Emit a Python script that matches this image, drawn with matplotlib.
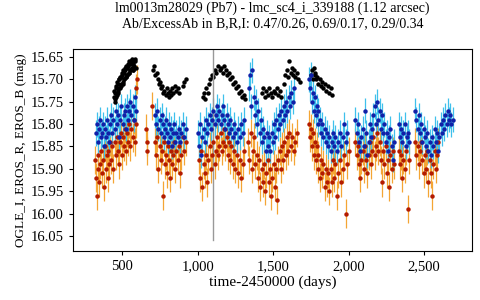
import matplotlib
matplotlib.use("Agg")
import matplotlib.pyplot as plt
from matplotlib.ticker import FuncFormatter

plt.rcParams["font.family"] = ["Liberation Serif", "DejaVu Serif"]

# EROS_B (blue markers, cyan bars)
t_b = [325, 332, 338, 345, 352, 358, 365, 372, 378, 385, 392, 398, 405, 412, 420, 428, 435, 442, 450, 458,
       465, 472, 480, 488, 495, 503, 510, 518, 525, 532, 540, 548, 555, 562, 570, 578, 585, 592,
       720, 727, 734, 741, 748, 755, 762, 769, 776, 783, 790, 797, 804, 811, 818, 825, 832, 839, 846, 853,
       860, 868, 876, 884, 892, 900, 910, 920,
       1005, 1012, 1018, 1025, 1032, 1040, 1048, 1056, 1064, 1072, 1080, 1088, 1096, 1104, 1112, 1120, 1128,
       1136, 1144, 1152, 1160, 1168, 1176, 1184, 1192, 1200, 1208, 1216, 1224, 1232, 1240, 1250, 1260, 1270,
       1280, 1290, 1300, 1310,
       1340, 1348, 1355, 1362, 1370, 1378, 1386, 1394, 1402, 1410, 1418, 1426, 1434, 1442, 1450, 1458, 1466,
       1474, 1482, 1490, 1498, 1506, 1514, 1522, 1530, 1538, 1546, 1554, 1562, 1570, 1578, 1586, 1594, 1602,
       1610, 1620, 1630, 1640,
       1740, 1746, 1752, 1758, 1764, 1770, 1776, 1782, 1788, 1794, 1800, 1808, 1816, 1824, 1832, 1840, 1848,
       1856, 1864, 1872, 1880, 1888, 1896, 1904, 1912, 1920, 1930, 1940, 1950, 1960, 1970, 1980, 1990,
       2045, 2052, 2060, 2068, 2076, 2084, 2092, 2100, 2108, 2116, 2124, 2132, 2140, 2148, 2156, 2164, 2172,
       2180, 2188, 2196, 2204, 2212, 2220, 2228, 2236, 2244, 2252, 2260, 2268, 2276, 2284, 2292, 2300,
       2330, 2338, 2346, 2354, 2362, 2370, 2378, 2386, 2394, 2402, 2440, 2448, 2456, 2464, 2472, 2480, 2488,
       2496, 2504, 2512, 2520, 2528, 2536, 2544, 2552, 2560, 2568, 2576, 2584, 2592, 2600, 2608, 2616, 2624,
       2632, 2640, 2648, 2656, 2664, 2672, 2680, 2688]
m_b = [15.82, 15.80, 15.84, 15.81, 15.79, 15.83, 15.82, 15.80, 15.85, 15.81, 15.83, 15.79, 15.82, 15.84, 15.80,
       15.78, 15.82, 15.79, 15.81, 15.77, 15.80, 15.78, 15.83, 15.79, 15.76, 15.80, 15.78, 15.77, 15.81, 15.76,
       15.79, 15.77, 15.75, 15.78, 15.76, 15.79, 15.74, 15.77,
       15.78, 15.80, 15.77, 15.81, 15.79, 15.82, 15.78, 15.80, 15.83, 15.81, 15.79, 15.82, 15.84, 15.80, 15.83,
       15.81, 15.85, 15.82, 15.80, 15.84, 15.82, 15.83, 15.81, 15.84, 15.82, 15.80, 15.83, 15.81,
       15.82, 15.85, 15.80, 15.87, 15.83, 15.81, 15.84, 15.79, 15.82, 15.80, 15.78, 15.81, 15.79, 15.77, 15.80,
       15.78, 15.76, 15.79, 15.77, 15.80, 15.78, 15.76, 15.79, 15.81, 15.78, 15.80, 15.82, 15.79, 15.81, 15.83,
       15.80, 15.82, 15.84, 15.81, 15.83, 15.80, 15.82, 15.79,
       15.72, 15.69, 15.76, 15.68, 15.74, 15.78, 15.75, 15.80, 15.77, 15.82, 15.79, 15.84, 15.81, 15.83, 15.86,
       15.82, 15.85, 15.83, 15.86, 15.82, 15.84, 15.80, 15.83, 15.79, 15.81, 15.78, 15.80, 15.77, 15.79, 15.76,
       15.78, 15.75, 15.77, 15.74, 15.76, 15.73, 15.75, 15.72,
       15.70, 15.72, 15.69, 15.75, 15.73, 15.77, 15.74, 15.78, 15.76, 15.80, 15.77, 15.79, 15.82, 15.80, 15.83,
       15.81, 15.84, 15.82, 15.85, 15.83, 15.86, 15.84, 15.82, 15.85, 15.83, 15.86, 15.84, 15.82, 15.85, 15.83,
       15.80, 15.84, 15.82,
       15.79, 15.82, 15.80, 15.84, 15.86, 15.83, 15.81, 15.85, 15.77, 15.82, 15.87, 15.84, 15.80, 15.83, 15.81,
       15.78, 15.76, 15.80, 15.75, 15.79, 15.77, 15.81, 15.78, 15.82, 15.80, 15.84, 15.82, 15.86, 15.83, 15.81,
       15.85, 15.88, 15.84,
       15.80, 15.83, 15.81, 15.84, 15.82, 15.80, 15.85, 15.83, 15.82, 15.84, 15.77, 15.79, 15.81, 15.78, 15.82,
       15.80, 15.84, 15.81, 15.83, 15.85, 15.82, 15.86, 15.84, 15.87, 15.83, 15.85, 15.81, 15.84, 15.82, 15.86,
       15.83, 15.80, 15.82, 15.79, 15.81, 15.78, 15.80, 15.77, 15.79, 15.78, 15.80, 15.79]
err_b = 0.028

# EROS_R (red markers, orange bars)
t_r = [322, 328, 333, 338, 344, 350, 356, 362, 368, 374, 380, 386, 392, 398, 404, 410, 416, 422, 428, 435,
       442, 450, 457, 464, 471, 478, 485, 492, 499, 506, 513, 520, 527, 534, 541, 548, 555, 562, 570, 578,
       586, 590, 593, 596,
       660, 662, 665, 697,
       720, 727, 734, 741, 748, 755, 762, 768, 775, 782, 789, 796, 803, 810, 817, 824, 831, 838, 845, 852,
       860, 868, 876, 884, 892, 900, 910, 920,
       1010, 1018, 1025, 1032, 1040, 1048, 1056, 1064, 1072, 1080, 1088, 1096, 1104, 1112, 1120, 1128, 1136,
       1144, 1152, 1160, 1168, 1176, 1184, 1192, 1200, 1208, 1216, 1224, 1232, 1240, 1250, 1260, 1270, 1280,
       1290, 1300, 1310,
       1335, 1343, 1351, 1359, 1367, 1375, 1383, 1391, 1399, 1407, 1415, 1423, 1431, 1439, 1447, 1455, 1463,
       1471, 1479, 1487, 1495, 1503, 1511, 1519, 1527, 1535, 1543, 1551, 1559, 1567, 1575, 1583, 1591, 1599,
       1607, 1615, 1625, 1635, 1645, 1655,
       1740, 1746, 1752, 1758, 1764, 1770, 1776, 1782, 1788, 1794, 1800, 1808, 1816, 1824, 1832, 1840, 1848,
       1856, 1864, 1872, 1880, 1888, 1896, 1904, 1912, 1920, 1930, 1940, 1950, 1960, 1970, 1982, 1990, 2000,
       2045, 2052, 2060, 2068, 2076, 2084, 2092, 2100, 2108, 2116, 2124, 2132, 2140, 2148, 2156, 2164, 2172,
       2180, 2188, 2196, 2204, 2212, 2220, 2228, 2236, 2244, 2252, 2260, 2268, 2276, 2284, 2292, 2300,
       2330, 2338, 2346, 2354, 2362, 2370, 2378, 2392, 2400, 2440, 2448, 2456, 2464, 2472, 2480, 2488, 2496,
       2504, 2512, 2520, 2528, 2536, 2544, 2552, 2560, 2568, 2576, 2584, 2592]
m_r = [15.88, 15.92, 15.96, 15.90, 15.87, 15.93, 15.89, 15.86, 15.91, 15.88, 15.94, 15.85, 15.90, 15.87, 15.92,
       15.86, 15.89, 15.84, 15.88, 15.85, 15.90, 15.84, 15.87, 15.83, 15.86, 15.89, 15.84, 15.82, 15.87, 15.83,
       15.85, 15.81, 15.86, 15.82, 15.84, 15.80, 15.85, 15.81, 15.83, 15.79, 15.84, 15.72, 15.80, 15.70,
       15.81, 15.84, 15.86, 15.76,
       15.84, 15.87, 15.83, 15.90, 15.85, 15.88, 15.86, 15.96, 15.84, 15.89, 15.87, 15.91, 15.85, 15.88, 15.92,
       15.86, 15.89, 15.87, 15.84, 15.90, 15.86, 15.88, 15.85, 15.91, 15.87, 15.83, 15.86, 15.84,
       15.88, 15.92, 15.86, 15.94, 15.89, 15.91, 15.87, 15.93, 15.88, 15.85, 15.90, 15.87, 15.84, 15.89, 15.86,
       15.83, 15.87, 15.85, 15.82, 15.86, 15.84, 15.81, 15.85, 15.83, 15.87, 15.84, 15.88, 15.85, 15.89, 15.86,
       15.90, 15.87, 15.91, 15.88, 15.92, 15.89, 15.86,
       15.84, 15.88, 15.82, 15.90, 15.86, 15.83, 15.89, 15.87, 15.92, 15.88, 15.94, 15.90, 15.93, 15.89, 15.95,
       15.91, 15.88, 15.93, 15.90, 15.96, 15.92, 15.89, 15.94, 15.90, 15.97, 15.88, 15.86, 15.90, 15.85, 15.88,
       15.84, 15.87, 15.83, 15.86, 15.82, 15.85, 15.83, 15.86, 15.84, 15.82,
       15.80, 15.83, 15.81, 15.85, 15.82, 15.87, 15.84, 15.88, 15.85, 15.90, 15.87, 15.92, 15.88, 15.91, 15.89,
       15.94, 15.90, 15.93, 15.91, 15.95, 15.90, 15.93, 15.88, 15.92, 15.89, 15.96, 15.91, 15.88, 15.93, 15.90,
       15.87, 16.00, 15.89, 15.86,
       15.84, 15.87, 15.85, 15.89, 15.92, 15.88, 15.86, 15.90, 15.85, 15.88, 15.91, 15.87, 15.84, 15.89, 15.86,
       15.83, 15.87, 15.85, 15.82, 15.86, 15.84, 15.88, 15.93, 15.86, 15.89, 15.85, 15.91, 15.88, 15.94, 15.87,
       15.90, 15.86, 15.89,
       15.86, 15.89, 15.87, 15.92, 15.88, 15.90, 15.86, 15.99, 15.88, 15.84, 15.87, 15.85, 15.89, 15.86, 15.84,
       15.88, 15.91, 15.87, 15.90, 15.86, 15.93, 15.88, 15.91, 15.96, 15.89, 15.86, 15.90, 15.87, 15.84]
err_r = 0.032

# OGLE_I (black markers)
t_i = [445, 448, 450, 453, 455, 458, 460, 463, 465, 468, 470, 473, 475, 478, 480, 483, 485, 488, 490, 493,
       495, 498, 500, 503, 505, 508, 510, 513, 515, 518, 520, 523, 525, 528, 530, 533, 535, 538, 540, 543,
       545, 548, 550, 553, 555, 558, 560, 563, 565, 568, 570, 573, 575, 578, 580, 583, 585, 590,
       705, 712, 720, 728, 735, 742, 750, 758, 765, 772, 780, 788, 795, 802, 810, 818, 825, 832, 840, 850,
       860, 870, 880, 900, 910, 920,
       1035, 1042, 1050, 1058, 1066, 1075, 1085, 1095, 1105, 1115, 1125, 1135, 1145, 1155, 1165, 1175, 1185,
       1195, 1205, 1215, 1225, 1235, 1245, 1255, 1265, 1275, 1285, 1295, 1305, 1315,
       1425, 1435, 1445, 1455, 1465, 1475, 1485, 1495, 1505, 1515, 1525, 1535, 1545, 1555, 1570, 1580, 1590,
       1600, 1608, 1615, 1622, 1630, 1638, 1645, 1655, 1665, 1680,
       1750, 1756, 1762, 1768, 1774, 1780, 1786, 1792, 1800, 1808, 1816, 1824, 1832, 1840, 1850, 1860, 1870,
       1880, 1888]
m_i = [15.74, 15.725, 15.73, 15.75, 15.745, 15.715, 15.72, 15.74, 15.735, 15.705, 15.71, 15.73, 15.725, 15.70,
       15.70, 15.72, 15.72, 15.695, 15.695, 15.715, 15.71, 15.685, 15.69, 15.71, 15.705, 15.68, 15.685, 15.70,
       15.70, 15.675, 15.68, 15.695, 15.695, 15.67, 15.675, 15.69, 15.69, 15.665, 15.67, 15.685, 15.685, 15.66,
       15.665, 15.68, 15.68, 15.66, 15.66, 15.675, 15.675, 15.655, 15.665, 15.68, 15.68, 15.66, 15.67, 15.655,
       15.66, 15.675,
       15.68, 15.67, 15.69, 15.685, 15.70, 15.71, 15.705, 15.72, 15.715, 15.73, 15.725, 15.735, 15.72, 15.73,
       15.74, 15.725, 15.735, 15.72, 15.73, 15.715, 15.725, 15.72, 15.73, 15.715, 15.705, 15.70,
       15.74, 15.73, 15.745, 15.72, 15.73, 15.71, 15.70, 15.69, 15.695, 15.68, 15.685, 15.67, 15.68, 15.675,
       15.685, 15.67, 15.68, 15.69, 15.685, 15.70, 15.695, 15.71, 15.705, 15.72, 15.715, 15.73, 15.725, 15.74,
       15.735, 15.745,
       15.73, 15.72, 15.74, 15.725, 15.735, 15.72, 15.73, 15.74, 15.725, 15.73, 15.72, 15.735, 15.725, 15.74,
       15.71, 15.69, 15.68, 15.695, 15.66, 15.685, 15.675, 15.69, 15.68, 15.695, 15.685, 15.70, 15.705,
       15.69, 15.68, 15.70, 15.675, 15.69, 15.685, 15.70, 15.695, 15.71, 15.70, 15.715, 15.705, 15.72, 15.71,
       15.725, 15.715, 15.73, 15.72, 15.735]

fig = plt.figure(figsize=(4.8, 3.0), dpi=100)
ax = fig.add_axes([0.152, 0.163, 0.831, 0.674])

ax.errorbar(t_r, m_r, yerr=err_r, fmt="o", color="#b31b00", ms=3.2, mew=0,
            ecolor="#f4a534", elinewidth=0.9, capsize=2, capthick=0.8)
ax.errorbar(t_b, m_b, yerr=err_b, fmt="o", color="#1020a8", ms=3.2, mew=0,
            ecolor="#3fc0ec", elinewidth=0.9, capsize=2, capthick=0.8)
ax.plot(t_i, m_i, "o", color="black", ms=3.2, mew=0)

ax.plot([1100, 1100], [15.632, 16.06], color="#999999", lw=1)

ax.set_xlim(175, 2815)
ax.set_ylim(16.084, 15.632)
ax.set_yticks([15.65, 15.70, 15.75, 15.80, 15.85, 15.90, 15.95, 16.00, 16.05])
ax.set_xticks([500, 1000, 1500, 2000, 2500])
ax.xaxis.set_major_formatter(FuncFormatter(lambda v, p: f"{v:,.0f}"))
ax.yaxis.set_major_formatter(FuncFormatter(lambda v, p: f"{v:.2f}"))
ax.tick_params(labelsize=10.5, length=3, width=0.8)

ax.set_xlabel("time-2450000 (days)", fontsize=11, labelpad=2)
ax.set_ylabel("OGLE_I, EROS_R, EROS_B (mag)", fontsize=9.5, labelpad=3)
fig.suptitle("lm0013m28029 (Pb7) - lmc_sc4_i_339188 (1.12 arcsec)\n"
             "Ab/ExcessAb in B,R,I: 0.47/0.26, 0.69/0.17, 0.29/0.34",
             fontsize=10, x=0.568, y=0.995, linespacing=1.25)

fig.savefig("out.png", dpi=100)
